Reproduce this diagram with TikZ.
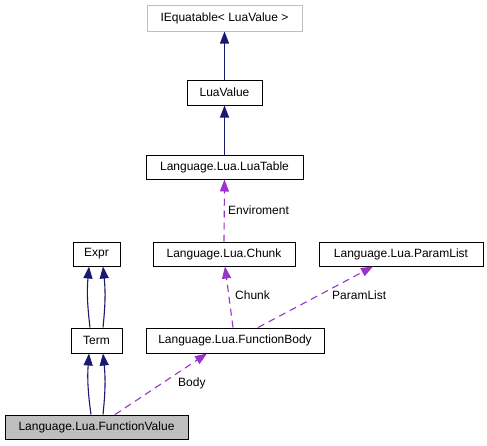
\documentclass[tikz,border=0pt]{standalone}
\usepackage{fontspec}
\setmainfont{Liberation Sans}
\usetikzlibrary{arrows.meta}
\definecolor{navyedge}{HTML}{191970}
\definecolor{purpedge}{HTML}{9A32CD}
\definecolor{grayborder}{HTML}{BFBFBF}
\definecolor{grayfill}{HTML}{BFBFBF}
\begin{document}
\begin{tikzpicture}[x=1pt,y=-1pt,
  every node/.style={font=\fontsize{12}{14}\selectfont},
  cls/.style={draw=black,line width=1pt,fill=white,rectangle,inner sep=0pt,anchor=center},
  inh/.style={draw=navyedge,line width=1.1pt,-{Triangle[length=12pt,width=9pt]},color=navyedge},
  use/.style={draw=purpedge,line width=1.1pt,dash pattern=on 7pt off 5pt,-{Triangle[length=12pt,width=9pt]},color=purpedge},
  lbl/.style={anchor=west,inner sep=0pt,text=black}]
\useasboundingbox (0,0) rectangle (487,445);
\fill[white] (0,0) rectangle (487,445);
\node[cls,draw=grayborder,minimum width=155pt,minimum height=26pt] (ieq) at (224.5,18) {IEquatable< LuaValue >};
\node[cls,minimum width=75pt,minimum height=25pt] (luavalue) at (224.5,92.5) {LuaValue};
\node[cls,minimum width=157pt,minimum height=24pt] (luatable) at (224.5,167) {Language.Lua.LuaTable};
\node[cls,minimum width=47pt,minimum height=24pt] (expr) at (96.5,254) {Expr};
\node[cls,minimum width=142pt,minimum height=24pt] (chunk) at (224,254) {Language.Lua.Chunk};
\node[cls,minimum width=164pt,minimum height=24pt] (paramlist) at (401,254) {Language.Lua.ParamList};
\node[cls,minimum width=51pt,minimum height=25pt] (term) at (96.5,340.5) {Term};
\node[cls,minimum width=178pt,minimum height=25pt] (fbody) at (235,340.5) {Language.Lua.FunctionBody};
\node[cls,fill=grayfill,minimum width=183pt,minimum height=24pt] (fvalue) at (96.5,427) {Language.Lua.FunctionValue};
% inheritance
\draw[inh] (luavalue.north) -- (ieq.south);
\draw[inh] (luatable.north) -- (luavalue.south);
\draw[inh] ([xshift=-6.5pt]term.north) to[bend left=6] ([xshift=-7.5pt]expr.south);
\draw[inh] ([xshift=6.5pt]term.north) to[bend right=6] ([xshift=6.5pt]expr.south);
\draw[inh] ([xshift=-5.5pt]fvalue.north) to[bend left=6] ([xshift=-7.5pt]term.south);
\draw[inh] ([xshift=6.5pt]fvalue.north) to[bend right=6] ([xshift=6.5pt]term.south);
% usage
\draw[use] (chunk.north) -- (luatable.south);
\draw[use] ([xshift=-2pt]fbody.north) -- ([xshift=1pt]chunk.south);
\draw[use] ([xshift=23pt]fbody.north) -- ([xshift=-28pt]paramlist.south);
\draw[use] ([xshift=18.5pt]fvalue.north) -- ([xshift=-28pt]fbody.south);
% labels
\node[lbl] (lenv) at (228,210) {Enviroment};
\node[lbl] (lchunk) at (235,295) {Chunk};
\node[lbl] (lparam) at (332,295) {ParamList};
\node[lbl] (lbody) at (178,383) {Body};
\end{tikzpicture}
\end{document}
